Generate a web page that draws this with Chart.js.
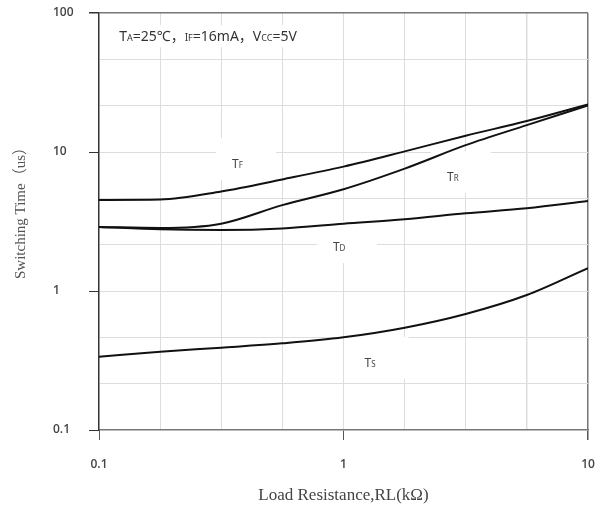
<!DOCTYPE html>
<html lang="en">
<head>
<meta charset="UTF-8">
<title>Switching Time vs Load Resistance</title>
<script src="https://cdn.jsdelivr.net/npm/chart.js"></script>
<style>
  html, body { margin: 0; padding: 0; background: #fff; }
  .wrap { position: relative; width: 607px; height: 510px; }
</style>
</head>
<body>
<div class="wrap"><canvas id="chart" width="607" height="510"></canvas></div>
<script>
// load resistance RL (kOhm) and switching times (us)
const loadRes  = [0.1, 0.178, 0.316, 0.562, 1, 1.78, 3.16, 5.62, 10];
const tFall    = [4.52, 4.55, 5.2, 6.35, 7.85, 10.1, 13.1, 16.7, 22.0];
const tRise    = [2.89, 2.84, 3.05, 4.15, 5.4, 7.6, 11.2, 15.6, 21.6];
const tDelay   = [2.89, 2.78, 2.75, 2.82, 3.05, 3.28, 3.62, 3.94, 4.44];
const tStorage = [0.337, 0.366, 0.391, 0.42, 0.464, 0.544, 0.683, 0.935, 1.46];

// grid lines: 4 per decade on x, 3 per decade on y
const xGrid = [0.1, 0.1778, 0.3162, 0.5623, 1, 1.778, 3.162, 5.623, 10];
const yGrid = [0.1, 0.2154, 0.4642, 1, 2.154, 4.642, 10, 21.54, 46.42, 100];

// curve names, placed in data units (left edge of text, vertical middle)
const curveLabels = [
  { main: 'T', sub: 'F', x: 0.35, y: 8.2 },
  { main: 'T', sub: 'R', x: 2.65, y: 6.6 },
  { main: 'T', sub: 'D', x: 0.905, y: 2.07 },
  { main: 'T', sub: 'S', x: 1.22, y: 0.303 }
];
const conditionText = [['T', 14], ['A', 9], ['=25℃，', 14], ['I', 10], ['F', 9], ['=16mA，V', 14], ['CC', 9], ['=5V', 14]];
const conditionPos = { x: 0.121, y: 68 };
const yTitle = 'Switching Time（us）';

const isDecade = v => Math.abs(Math.log10(v) - Math.round(Math.log10(v))) < 1e-3;
const pts = arr => loadRes.map((x, i) => ({ x: x, y: arr[i] }));

function drawRich(ctx, x, baseY, parts, family, color) {
  ctx.save();
  ctx.fillStyle = color;
  ctx.textBaseline = 'alphabetic';
  ctx.textAlign = 'left';
  let cx = x;
  parts.forEach(p => {
    ctx.font = p[1] + 'px ' + family;
    ctx.fillText(p[0], cx, baseY);
    cx += ctx.measureText(p[0]).width;
  });
  ctx.restore();
}

const labelFont = "'Noto Sans', 'Noto Sans CJK SC', sans-serif";
const serifFont = "'Liberation Serif', 'Noto Sans CJK SC', serif";

const textPlugin = {
  id: 'curveText',
  beforeDatasetsDraw(chart) {
    const ctx = chart.ctx, xs = chart.scales.x, ys = chart.scales.y;
    ctx.save();
    ctx.fillStyle = '#fff';
    curveLabels.forEach(l => {
      const px = xs.getPixelForValue(l.x), py = ys.getPixelForValue(l.y);
      ctx.fillRect(px - 16, py - 26, 60, 42);
    });
    const cx = xs.getPixelForValue(conditionPos.x), cy = ys.getPixelForValue(conditionPos.y);
    ctx.fillRect(cx - 7, cy - 11, 192, 22);
    ctx.restore();
  },
  afterDatasetsDraw(chart) {
    const ctx = chart.ctx, xs = chart.scales.x, ys = chart.scales.y;
    curveLabels.forEach(l => {
      const px = xs.getPixelForValue(l.x), py = ys.getPixelForValue(l.y);
      drawRich(ctx, px, py + 4, [[l.main, 12], [l.sub, 8]], labelFont, '#444');
    });
    const cx = xs.getPixelForValue(conditionPos.x), cy = ys.getPixelForValue(conditionPos.y);
    drawRich(ctx, cx, cy + 5, conditionText, labelFont, '#333');
  },
  afterDraw(chart) {
    // y axis title, a little above the middle like the original
    const ctx = chart.ctx, area = chart.chartArea;
    ctx.save();
    ctx.translate(21, (area.top + area.bottom) / 2 - 12);
    ctx.rotate(-Math.PI / 2);
    ctx.fillStyle = '#555';
    ctx.font = '15px ' + serifFont;
    ctx.textAlign = 'center';
    ctx.textBaseline = 'middle';
    ctx.fillText(yTitle, 0, 0);
    ctx.restore();
  }
};

const tickFont = { family: "'Open Sans', sans-serif", size: 12, weight: '600' };

function series(data) {
  return {
    data: pts(data),
    showLine: true,
    borderColor: '#111',
    borderWidth: 2,
    pointRadius: 0,
    tension: 0.4,
    cubicInterpolationMode: 'monotone',
    fill: false
  };
}

new Chart(document.getElementById('chart').getContext('2d'), {
  type: 'scatter',
  data: {
    datasets: [series(tFall), series(tRise), series(tDelay), series(tStorage)]
  },
  options: {
    responsive: false,
    animation: false,
    layout: { padding: { top: 13, right: 19, left: 53, bottom: 0 } },
    plugins: { legend: { display: false }, tooltip: { enabled: false } },
    scales: {
      x: {
        type: 'logarithmic',
        min: 0.1,
        max: 10,
        afterBuildTicks: s => { s.ticks = xGrid.map(v => ({ value: v })); },
        afterFit: s => { s.height = 80; s.paddingLeft = 0; s.paddingRight = 0; },
        ticks: {
          autoSkip: false,
          maxRotation: 0,
          padding: 17,
          color: '#444',
          font: tickFont,
          callback: v => isDecade(v) ? String(v) : ''
        },
        grid: {
          color: c => (c.tick && isDecade(c.tick.value) && c.tick.value > 5) ? '#777' :
                      (c.tick && c.tick.value < 0.11 ? 'rgba(0,0,0,0)' : '#ddd'),
          tickColor: c => (c.tick && isDecade(c.tick.value)) ? '#555' : 'rgba(0,0,0,0)',
          tickLength: 10,
          lineWidth: c => (c.tick && c.tick.value > 5) ? 1.5 : 1
        },
        border: { color: '#777', width: 1.5 },
        title: {
          display: true,
          text: 'Load Resistance,RL(kΩ)',
          color: '#444',
          font: { family: serifFont, size: 17 },
          padding: { top: 4, bottom: 4 }
        }
      },
      y: {
        type: 'logarithmic',
        min: 0.1,
        max: 100,
        afterBuildTicks: s => { s.ticks = yGrid.map(v => ({ value: v })); },
        afterFit: s => { s.width = 46; s.paddingTop = 0; s.paddingBottom = 0; },
        ticks: {
          autoSkip: false,
          crossAlign: 'far',
          padding: 13,
          color: '#444',
          font: tickFont,
          callback: v => isDecade(v) ? String(v) : ''
        },
        grid: {
          color: c => (c.tick && c.tick.value > 50) ? '#777' :
                      (c.tick && c.tick.value < 0.11 ? 'rgba(0,0,0,0)' : '#ddd'),
          tickColor: c => (c.tick && isDecade(c.tick.value)) ? '#333' : 'rgba(0,0,0,0)',
          tickLength: 10,
          lineWidth: c => (c.tick && c.tick.value > 50) ? 1.5 : 1
        },
        border: { color: '#333', width: 1.5 },
        title: { display: false }
      }
    }
  },
  plugins: [textPlugin]
});
</script>
</body>
</html>
